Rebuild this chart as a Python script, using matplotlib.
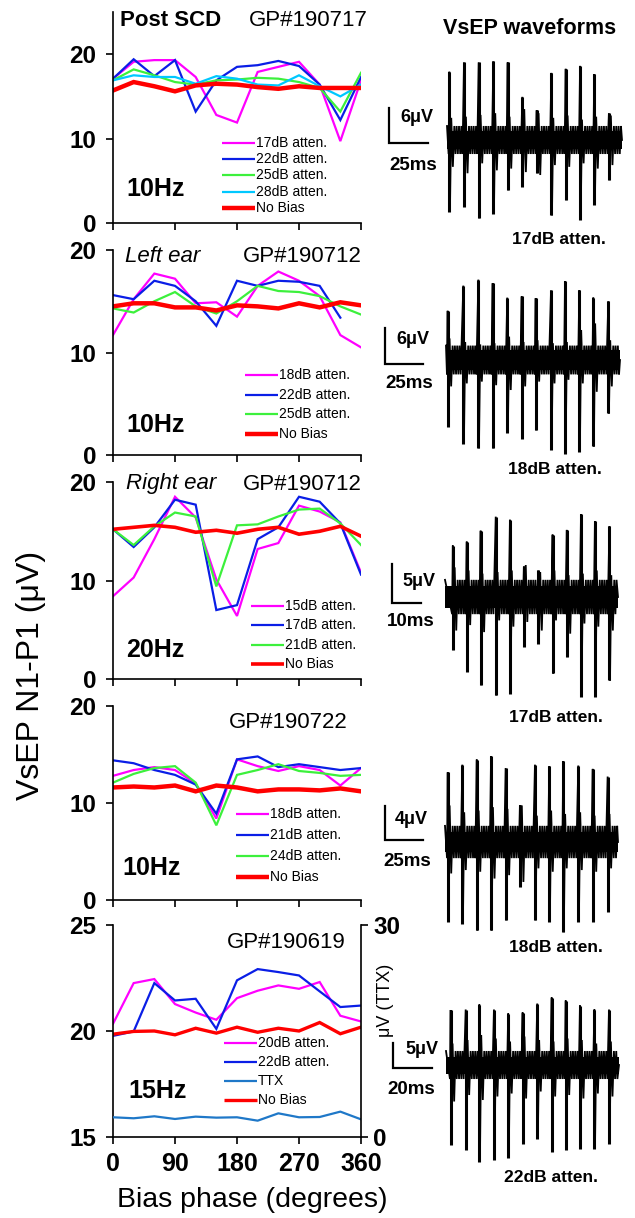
import matplotlib
matplotlib.use("Agg")
import matplotlib.pyplot as plt
from matplotlib.lines import Line2D
import numpy as np

plt.rcParams['font.family'] = ['Liberation Sans', 'DejaVu Sans']

W, H = 635, 1218

MAGENTA = '#ff00ff'
BLUE = '#0a1ee6'
GREEN = '#3cf03c'
CYAN = '#00c8ff'
RED = '#ff0000'
TTXBLUE = '#1f78c8'

phase = [0, 30, 60, 90, 120, 150, 180, 210, 240, 270, 300, 330, 360]

# panel 1 - post SCD, GP#190717, 10Hz
p1_17db = [17.1, 19.1, 19.3, 19.3, 17.3, 12.8, 11.9, 17.9, 18.5, 19.1, 16.4, 9.7, 16.9]
p1_22db = [17.1, 19.4, 17.4, 19.3, 13.2, 16.9, 18.5, 18.7, 19.2, 18.6, 16.4, 12.2, 17.3]
p1_25db = [16.9, 18.2, 17.5, 16.7, 16.4, 16.9, 17.0, 17.2, 17.1, 16.7, 16.0, 13.2, 17.8]
p1_28db = [16.9, 17.5, 17.3, 17.3, 16.5, 17.4, 17.1, 16.4, 16.3, 17.5, 16.2, 15.0, 16.4]
p1_nobias = [15.7, 16.7, 16.2, 15.6, 16.3, 16.5, 16.4, 16.1, 15.9, 16.2, 16.0, 16.0, 16.0]

# panel 2 - left ear, GP#190712, 10Hz
p2_18db = [11.7, 15.2, 17.7, 17.2, 14.8, 14.9, 13.5, 16.5, 17.9, 17.0, 15.5, 11.7, 10.5]
p2_22db = [15.6, 15.2, 17.0, 16.5, 15.0, 12.6, 17.0, 16.5, 17.0, 16.9, 16.5, 13.4, np.nan]
p2_25db = [14.3, 13.9, 15.0, 15.9, 14.5, 13.8, 15.0, 16.5, 16.0, 15.9, 15.5, 14.5, 13.7]
p2_nobias = [14.5, 14.8, 14.8, 14.4, 14.4, 14.1, 14.6, 14.5, 14.3, 14.8, 14.4, 14.9, 14.6]

# panel 3 - right ear, GP#190712, 20Hz
p3_15db = [8.4, 10.3, 14.2, 18.5, 16.4, 10.1, 6.4, 13.2, 13.8, 17.6, 17.0, 15.9, 10.8]
p3_17db = [15.2, 13.4, 15.4, 18.2, 17.7, 7.0, 7.5, 14.2, 15.4, 18.5, 18.0, 15.8, 10.6]
p3_21db = [15.2, 13.6, 15.5, 16.9, 16.5, 9.4, 15.6, 15.7, 16.5, 17.2, 17.3, 15.8, 13.6]
p3_nobias = [15.2, 15.4, 15.6, 15.4, 14.9, 15.1, 14.8, 15.2, 15.4, 14.7, 15.0, 15.5, 14.5]

# panel 4 - GP#190722, 10Hz
p4_18db = [12.8, 13.4, 13.7, 13.4, 12.0, 8.4, 14.5, 13.8, 13.3, 13.8, 13.4, 11.8, 13.6]
p4_21db = [14.4, 14.1, 13.4, 12.9, 11.9, 8.9, 14.5, 14.8, 13.7, 14.0, 13.7, 13.4, 13.6]
p4_24db = [12.1, 13.0, 13.6, 13.8, 12.1, 7.7, 12.9, 13.4, 14.0, 13.3, 13.1, 12.8, 12.9]
p4_nobias = [11.6, 11.7, 11.6, 11.8, 11.2, 11.8, 11.6, 11.2, 11.4, 11.4, 11.3, 11.5, 11.2]

# panel 5 - GP#190619, 15Hz (TTX on right axis)
p5_20db = [20.34, 22.26, 22.45, 21.27, 20.87, 20.53, 21.55, 21.9, 22.15, 21.99, 22.31, 20.72, 20.45]
p5_22db = [19.77, 19.98, 22.26, 21.44, 21.52, 20.1, 22.39, 22.92, 22.78, 22.62, 21.87, 21.13, 21.2]
p5_ttx = [2.79, 2.65, 2.93, 2.55, 2.88, 2.74, 2.79, 2.31, 3.35, 2.79, 2.83, 3.59, 2.5]
p5_nobias = [19.85, 19.98, 20.0, 19.82, 20.13, 19.9, 20.18, 19.94, 20.13, 20.0, 20.4, 19.87, 20.18]

# VsEP waveforms: spike times (ms), peak up / trough down (uV), secondary peaks (uV)
w1_t = [1.5, 10.9, 20.3, 29.7, 38.9, 48.3, 57.5, 66.9, 76.1, 85.3, 94.4, 103.8]
w1_up = [11.7, 13.3, 13.3, 13.5, 13.3, 7.4, 5.1, 11.5, 12.2, 12.7, 11.3, 4.6]
w1_dn = [12.3, 11.4, 13.4, 12.6, 8.6, 8.0, 5.7, 12.9, 10.3, 13.7, 11.1, 6.9]
w1_sec_up = [3.8, 4.0, 4.3, 4.6, 4.0, 5.3, 4.6, 3.8, 4.2, 3.5, 4.0, 4.2]
w1_sec_dn = [4.6, 5.7, 4.0, 5.2, 4.9, 5.5, 6.0, 4.3, 4.6, 4.0, 4.9, 4.3]

w2_t = [1.1, 11.4, 21.3, 30.7, 40.3, 49.8, 59.0, 69.1, 78.3, 87.7, 96.9, 106.8]
w2_up = [8.2, 12.4, 13.4, 12.8, 10.4, 10.6, 10.3, 11.6, 13.1, 11.6, 10.4, 9.8]
w2_dn = [11.1, 14.0, 14.7, 14.7, 12.1, 13.1, 11.7, 15.0, 15.6, 15.3, 14.4, 8.9]
w2_sec_up = [3.6, 3.0, 2.6, 2.8, 3.9, 3.0, 3.3, 2.8, 3.0, 5.0, 6.1, 3.3]
w2_sec_dn = [4.4, 3.9, 3.6, 4.2, 5.0, 4.4, 3.6, 3.9, 3.3, 3.9, 5.3, 4.4]

w3_t = [2.7, 7.5, 12.3, 17.5, 22.4, 27.2, 32.2, 37.1, 42.0, 46.9, 51.7, 56.7]
w3_up = [6.6, 7.1, 8.5, 10.3, 9.9, 3.9, 3.4, 8.0, 8.6, 10.6, 9.7, 9.1]
w3_dn = [6.8, 9.6, 11.3, 12.6, 12.4, 6.4, 6.0, 9.8, 7.7, 12.8, 12.8, 10.7]
w3_sec_up = [3.8, 3.4, 3.0, 3.2, 3.4, 4.1, 3.2, 3.4, 2.8, 3.0, 3.4, 2.8]
w3_sec_dn = [4.3, 3.6, 4.5, 3.0, 3.8, 3.2, 4.3, 3.0, 4.7, 3.4, 3.8, 4.3]

w4_t = [1.8, 11.4, 20.9, 30.3, 39.9, 49.3, 59.2, 68.6, 77.8, 87.7, 97.2, 107.0]
w4_up = [8.2, 9.1, 9.7, 10.1, 8.7, 4.3, 9.1, 8.9, 9.5, 9.0, 8.6, 7.7]
w4_dn = [9.4, 9.6, 10.4, 10.4, 9.2, 5.3, 9.2, 9.4, 10.6, 9.4, 9.4, 8.2]
w4_sec_up = [4.3, 3.5, 3.7, 4.1, 3.9, 4.3, 3.1, 3.7, 3.3, 3.5, 3.1, 3.3]
w4_sec_dn = [3.7, 3.3, 3.5, 4.3, 3.9, 4.7, 3.1, 3.5, 3.1, 3.3, 3.5, 3.1]

w5_t = [2.4, 10.1, 17.1, 24.6, 31.9, 39.3, 46.8, 54.2, 61.4, 68.7, 76.1, 83.6]
w5_up = [11.0, 11.1, 12.1, 11.1, 10.3, 10.5, 12.3, 13.5, 12.9, 11.9, 11.1, 11.1]
w5_dn = [16.0, 17.0, 19.3, 18.9, 18.5, 15.7, 14.7, 17.3, 17.0, 16.8, 16.7, 15.7]
w5_sec_up = [4.3, 5.0, 6.0, 5.3, 4.7, 5.7, 5.0, 4.7, 5.3, 5.0, 4.3, 4.7]
w5_sec_dn = [7.3, 6.0, 7.0, 6.3, 5.7, 6.7, 5.3, 6.3, 6.0, 6.7, 5.7, 6.3]


def fx(x):
    return x / W


def fy(y):
    return 1 - y / H


def box(x0, y0, x1, y1):
    return [fx(x0), fy(y1), (x1 - x0) / W, (y1 - y0) / H]


fig = plt.figure(figsize=(W / 100, H / 100), dpi=100)

panels = [
    dict(box=(113, 12, 361, 223), ylim=(0, 25), yticks=[0, 10, 20],
         series=[(p1_17db, '17dB atten.', MAGENTA, 1.6),
                 (p1_22db, '22dB atten.', BLUE, 1.6),
                 (p1_25db, '25dB atten.', GREEN, 1.6),
                 (p1_28db, '28dB atten.', CYAN, 1.6),
                 (p1_nobias, 'No Bias', RED, 3.2)],
         tag=('Post SCD', 'bold', 'normal', 120, 21), gp=('GP#190717', 368, 21),
         rate=('10Hz', 126, 189), leg=(222, 143, 16.2)),
    dict(box=(113, 250, 361, 455), ylim=(0, 20), yticks=[0, 10, 20],
         series=[(p2_18db, '18dB atten.', MAGENTA, 1.6),
                 (p2_22db, '22dB atten.', BLUE, 1.6),
                 (p2_25db, '25dB atten.', GREEN, 1.6),
                 (p2_nobias, 'No Bias', RED, 3.2)],
         tag=('Left ear', 'normal', 'italic', 125, 257), gp=('GP#190712', 362, 257),
         rate=('10Hz', 126, 425), leg=(245, 375, 19.7)),
    dict(box=(113, 482, 361, 679), ylim=(0, 20), yticks=[0, 10, 20],
         series=[(p3_15db, '15dB atten.', MAGENTA, 1.6),
                 (p3_17db, '17dB atten.', BLUE, 1.6),
                 (p3_21db, '21dB atten.', GREEN, 1.6),
                 (p3_nobias, 'No Bias', RED, 2.6)],
         tag=('Right ear', 'normal', 'italic', 126, 484), gp=('GP#190712', 362, 484),
         rate=('20Hz', 126, 650), leg=(251, 606, 19.3)),
    dict(box=(113, 706, 361, 900), ylim=(0, 20), yticks=[0, 10, 20],
         series=[(p4_18db, '18dB atten.', MAGENTA, 1.6),
                 (p4_21db, '21dB atten.', BLUE, 1.6),
                 (p4_24db, '24dB atten.', GREEN, 1.6),
                 (p4_nobias, 'No Bias', RED, 3.2)],
         tag=None, gp=('GP#190722', 348, 722),
         rate=('10Hz', 122, 868), leg=(236, 814, 21.0)),
    dict(box=(113, 925, 361, 1137), ylim=(15, 25), yticks=[15, 20, 25],
         series=[(p5_20db, '20dB atten.', MAGENTA, 1.6),
                 (p5_22db, '22dB atten.', BLUE, 1.6),
                 (p5_nobias, 'No Bias', RED, 2.4)],
         tag=None, gp=('GP#190619', 346, 942),
         rate=('15Hz', 128, 1091), leg=(224, 1043, 19.0)),
]

for i, p in enumerate(panels):
    ax = fig.add_axes(box(*p['box']))
    handles = []
    for vals, label, color, lw in p['series']:
        ax.plot(phase, vals, color=color, lw=lw, label=label, solid_joinstyle='miter')
        handles.append((label, color, lw))
    ax.set_xlim(0, 360)
    ax.set_ylim(*p['ylim'])
    ax.set_yticks(p['yticks'])
    ax.set_xticks([0, 90, 180, 270, 360])
    for s in ['top', 'right']:
        ax.spines[s].set_visible(False)
    for s in ['left', 'bottom']:
        ax.spines[s].set_linewidth(1.2)
    ax.tick_params(direction='out', length=5, width=1.2, labelsize=17.5, pad=7)
    for t in ax.get_yticklabels():
        t.set_fontweight('bold')
    if i < 4:
        ax.set_xticklabels([])
    else:
        ax.tick_params(axis='x', labelsize=18, pad=6)
        for t in ax.get_xticklabels():
            t.set_fontweight('bold')
        ax.set_xlabel('Bias phase (degrees)', fontsize=20.5)
        ax.xaxis.set_label_coords((252 - 113) / 248, -0.235)
        axr = ax.twinx()
        axr.plot(phase, p5_ttx, color=TTXBLUE, lw=1.6)
        axr.set_ylim(0, 30)
        axr.set_yticks([0, 30])
        for s in ['top', 'left', 'bottom']:
            axr.spines[s].set_visible(False)
        axr.spines['right'].set_linewidth(1.2)
        axr.tick_params(direction='out', length=5, width=1.2, labelsize=17.5, pad=4)
        for t in axr.get_yticklabels():
            t.set_fontweight('bold')
        handles.insert(2, ('TTX', TTXBLUE, 1.6))
        fig.text(fx(386), fy(1000), u'\u03bcV (TTX)', fontsize=13, rotation=90,
                 ha='center', va='center')

    if p['tag']:
        txt, wt, st, tx, ty = p['tag']
        fig.text(fx(tx), fy(ty), txt, fontsize=16, fontweight=wt, style=st,
                 ha='left', va='center')
    gtxt, gx, gy = p['gp']
    fig.text(fx(gx), fy(gy), gtxt, fontsize=16, ha='right', va='center')
    rtxt, rx, ry = p['rate']
    fig.text(fx(rx), fy(ry), rtxt, fontsize=18, fontweight='bold', ha='left', va='center')

    # legend, drawn row by row
    lx, ly, dy = p['leg']
    for k, (label, color, lw) in enumerate(handles):
        yy = ly + k * dy
        fig.add_artist(Line2D([fx(lx), fx(lx + 33)], [fy(yy), fy(yy)], color=color,
                              lw=lw, solid_capstyle='butt'))
        fig.text(fx(lx + 34), fy(yy), label, fontsize=10, ha='left', va='center')

fig.text(fx(31), fy(675), u'VsEP N1-P1 (\u03bcV)', fontsize=23, rotation=90,
         ha='center', va='center')

# waveform panels
fig.text(fx(530), fy(29), 'VsEP waveforms', fontsize=15.5, fontweight='bold',
         ha='center', va='center')

waves = [
    dict(t=w1_t, up=w1_up, dn=w1_dn, su=w1_sec_up, sd=w1_sec_dn, core=1.6, fuzz=2.4,
         start=447, end=622, base=140, pxms=1.56, pxuv=35 / 6, ytop=50, ybot=230,
         bar=(389, 143, 6, 25), vtxt=(u'6\u03bcV', 400, 118), htxt=('25ms', 389, 165),
         label=('17dB atten.', 559, 239)),
    dict(t=w2_t, up=w2_up, dn=w2_dn, su=w2_sec_up, sd=w2_sec_dn, core=1.6, fuzz=2.4,
         start=446, end=620, base=360, pxms=1.52, pxuv=6.0, ytop=265, ybot=462,
         bar=(385, 364, 6, 25), vtxt=(u'6\u03bcV', 396, 340), htxt=('25ms', 385, 383),
         label=('18dB atten.', 555, 470)),
    dict(t=w3_t, up=w3_up, dn=w3_dn, su=w3_sec_up, sd=w3_sec_dn, core=1.4, fuzz=2.2,
         start=445, end=618, base=597, pxms=2.9, pxuv=39 / 5, ytop=500, ybot=705,
         bar=(392, 603, 5, 10), vtxt=(u'5\u03bcV', 402, 582), htxt=('10ms', 387, 622),
         label=('17dB atten.', 556, 718)),
    dict(t=w4_t, up=w4_up, dn=w4_dn, su=w4_sec_up, sd=w4_sec_dn, core=1.2, fuzz=1.9,
         start=445, end=618, base=842, pxms=1.52, pxuv=34 / 4, ytop=745, ybot=940,
         bar=(385, 840, 4, 25), vtxt=(u'4\u03bcV', 395, 820), htxt=('25ms', 383, 861),
         label=('18dB atten.', 556, 948)),
    dict(t=w5_t, up=w5_up, dn=w5_dn, su=w5_sec_up, sd=w5_sec_dn, core=1.7, fuzz=2.8,
         start=446, end=619, base=1065, pxms=1.95, pxuv=25 / 5, ytop=990, ybot=1170,
         bar=(393, 1068, 5, 20), vtxt=(u'5\u03bcV', 405, 1049), htxt=('20ms', 387, 1089),
         label=('22dB atten.', 551, 1178)),
]

# where the secondary deflections and the background ripple sit within one spike period
sec_offsets = [0.13, 0.24]
ripple_offsets = [0.34, 0.42, 0.50, 0.58, 0.66, 0.74, 0.82, 0.90]

for wv in waves:
    x0, x1 = 380, 632
    ax = fig.add_axes(box(x0, wv['ytop'], x1, wv['ybot']))
    ax.axis('off')
    ax.set_xlim((x0 - wv['start']) / wv['pxms'], (x1 - wv['start']) / wv['pxms'])
    ax.set_ylim((wv['base'] - wv['ybot']) / wv['pxuv'], (wv['base'] - wv['ytop']) / wv['pxuv'])
    t = wv['t']
    tend = (wv['end'] - wv['start']) / wv['pxms']
    gap = float(np.median(np.diff(t)))

    # trace as one jagged polyline
    xs, ys = [0.0, t[0] - 0.05 * gap], [wv['fuzz'], -wv['fuzz']]
    for k in range(len(t)):
        xs += [t[k], t[k] + 0.04 * gap]
        ys += [wv['up'][k], -wv['dn'][k]]
        xs += [t[k] + sec_offsets[0] * gap, t[k] + sec_offsets[1] * gap]
        ys += [wv['su'][k], -wv['sd'][k]]
        nxt = t[k + 1] if k + 1 < len(t) else tend
        for j, off in enumerate(ripple_offsets):
            xr = t[k] + off * gap
            if xr < nxt - 0.04 * gap:
                xs.append(xr)
                ys.append(wv['fuzz'] if j % 2 == 0 else -wv['fuzz'])
    xs.append(tend)
    ys.append(0.0)
    ax.fill_between([0, tend], -wv['core'], wv['core'], color='black', lw=0)
    ax.plot(xs, ys, color='black', lw=1.3, solid_joinstyle='miter')
    ax.vlines(t, -np.array(wv['dn']), np.array(wv['up']), color='black', lw=2.2)

    # scale bar
    bx, by, buv, bms = wv['bar']
    cx = (bx - wv['start']) / wv['pxms']
    cy = (wv['base'] - by) / wv['pxuv']
    ax.plot([cx, cx, cx + bms], [cy + buv, cy, cy], color='black', lw=1.6,
            solid_joinstyle='miter', clip_on=False)
    vt, vx, vy = wv['vtxt']
    fig.text(fx(vx), fy(vy), vt, fontsize=13, fontweight='bold', ha='left', va='center')
    ht, hx, hy = wv['htxt']
    fig.text(fx(hx), fy(hy), ht, fontsize=13.5, fontweight='bold', ha='left', va='center')
    lt, lxx, lyy = wv['label']
    fig.text(fx(lxx), fy(lyy), lt, fontsize=12.5, fontweight='bold', ha='center', va='center')

fig.savefig('out.png', dpi=100)
